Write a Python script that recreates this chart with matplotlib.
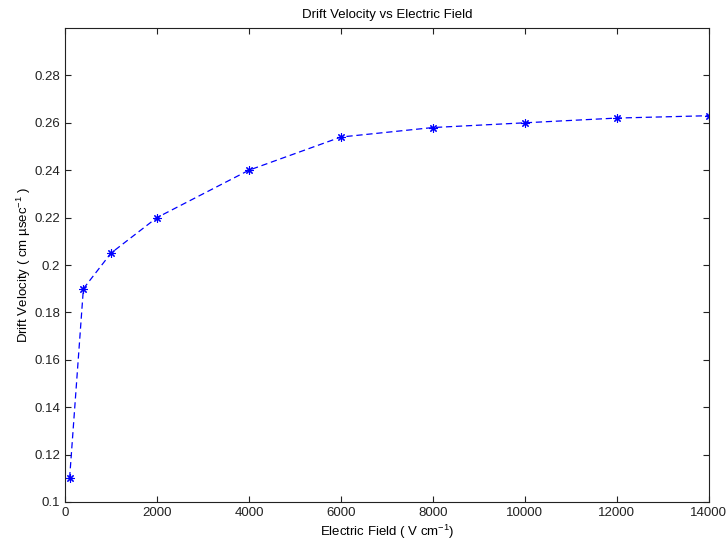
import matplotlib.pyplot as plt

field = [100, 400, 1000, 2000, 4000, 6000, 8000, 10000, 12000, 14000]
velocity = [0.110, 0.190, 0.205, 0.220, 0.240, 0.254, 0.258, 0.260, 0.262, 0.263]
xticks = [0, 2000, 4000, 6000, 8000, 10000, 12000, 14000]
yticks = [0.1, 0.12, 0.14, 0.16, 0.18, 0.2, 0.22, 0.24, 0.26, 0.28]
ytick_labels = ["0.1", "0.12", "0.14", "0.16", "0.18", "0.2", "0.22", "0.24", "0.26", "0.28"]

plt.rcParams['font.family'] = ['Liberation Sans', 'DejaVu Sans']
plt.rcParams['font.size'] = 10
plt.rcParams['mathtext.fontset'] = 'custom'
plt.rcParams['mathtext.rm'] = 'Liberation Sans'

fig = plt.figure(figsize=(7.27, 5.46), dpi=100)
ax = fig.add_axes([0.0894, 0.0806, 0.8856, 0.8681])
ax.plot(field, velocity, color='blue', linestyle='--', linewidth=0.9,
        marker=(8, 2, 0), markersize=6, markeredgewidth=0.8, dashes=(5, 3))

ax.set_xlim(0, 14000)
ax.set_ylim(0.1, 0.3)
ax.set_xticks(xticks)
ax.set_xticklabels([str(t) for t in xticks])
ax.set_yticks(yticks)
ax.set_yticklabels(ytick_labels)
ax.tick_params(direction='in', top=True, right=True, length=4, width=0.8,
               labelsize=9.5, colors='#222222')
for s in ax.spines.values():
    s.set_linewidth(0.8)
    s.set_color('#222222')

ax.set_title("Drift Velocity vs Electric Field", fontsize=9.5, pad=7)
ax.set_xlabel("Electric Field ( V cm$^{-1}$)", fontsize=9.5, labelpad=3)
ax.set_ylabel("Drift Velocity ( cm \u00b5sec$^{-1}$ )", fontsize=9.5, labelpad=1)

fig.savefig("out.png", dpi=100)
